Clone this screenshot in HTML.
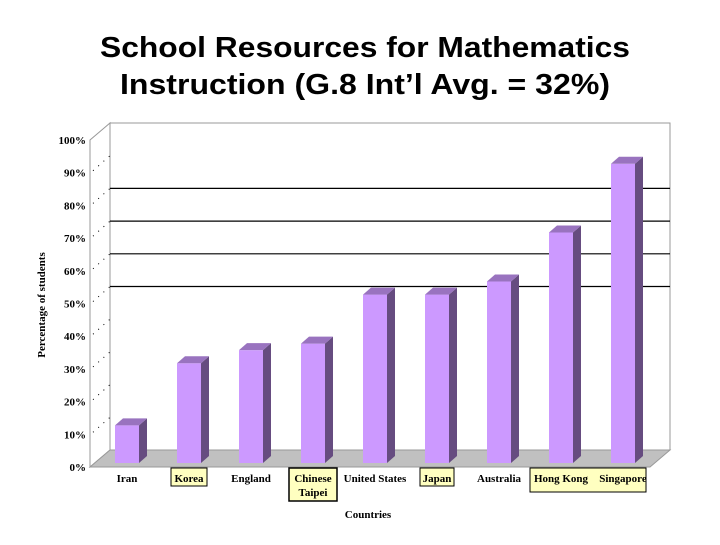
<!DOCTYPE html>
<html><head><meta charset="utf-8"><style>
body{margin:0;background:#fff;}
</style></head><body>
<svg width="720" height="540" viewBox="0 0 720 540" xmlns="http://www.w3.org/2000/svg">
<text x="365" y="57" text-anchor="middle" font-family="Liberation Sans, sans-serif" font-size="29" font-weight="bold" textLength="530" lengthAdjust="spacingAndGlyphs">School Resources for Mathematics</text>
<text x="365" y="94" text-anchor="middle" font-family="Liberation Sans, sans-serif" font-size="29" font-weight="bold" textLength="490" lengthAdjust="spacingAndGlyphs">Instruction (G.8 Int’l Avg. = 32%)</text>
<g id="plot"></g>
</svg>
<script>
const categories=["Iran","Korea","England","Chinese|Taipei","United States","Japan","Australia","Hong Kong","Singapore"];
const values=[11.5,30.5,34.5,36.5,51.5,51.5,55.5,70.5,91.5];
const highlighted=[false,true,false,true,false,true,false,true,true];
const ticks=[0,10,20,30,40,50,60,70,80,90,100];
const gridVals=[50,60,70,80];
const NS="http://www.w3.org/2000/svg";
const g=document.getElementById('plot');
const y0=467,ppu=3.27,dx=20,dy=-17,xf=90,xEnd=650;
const yScale=v=>y0-v*ppu;
function mk(t,a,txt){const e=document.createElementNS(NS,t);for(const k in a)e.setAttribute(k,a[k]);if(txt!==undefined)e.textContent=txt;g.appendChild(e);return e;}
let e=mk('rect',{x:xf+dx,y:yScale(100)+dy,width:xEnd-xf,height:100*ppu,fill:'#fff',stroke:'#999','stroke-width':1});

e=mk('polygon',{points:`${xf},${y0} ${xf+dx},${y0+dy} ${xf+dx},${yScale(100)+dy} ${xf},${yScale(100)}`,fill:'#fff',stroke:'#999'});

e=mk('polygon',{points:`${xf},${y0} ${xf+dx},${y0+dy} ${xEnd+dx},${y0+dy} ${xEnd},${y0}`,fill:'#c0c0c0',stroke:'#999'});

gridVals.forEach(v=>{const l=mk('line',{x1:xf+dx,x2:xEnd+dx,y1:yScale(v)+dy,y2:yScale(v)+dy,stroke:'#000','stroke-width':1.2});
});
ticks.forEach(v=>{const t=mk('text',{x:xf-4,y:yScale(v)+4,'text-anchor':'end','font-family':'Liberation Serif, serif','font-size':11,'font-weight':'bold'},v+'%');

if(v>0&&v<100){const d=mk('line',{x1:xf+3,y1:yScale(v)-2,x2:xf+dx,y2:yScale(v)+dy,stroke:'#000','stroke-dasharray':'1 6'});
}});
const step=62,x1=127,bw=24,bdx=8,bdy=-7,by=463;
categories.forEach((c,i)=>{const cx=x1+i*step,xl=cx-bw/2,top=by-values[i]*ppu;
const f=mk('rect',{x:xl,y:top,width:bw,height:by-top,fill:'#cc99ff'});

const s=mk('polygon',{points:`${xl+bw},${by} ${xl+bw+bdx},${by+bdy} ${xl+bw+bdx},${top+bdy} ${xl+bw},${top}`,fill:'#664c80'});

const tp=mk('polygon',{points:`${xl},${top} ${xl+bdx},${top+bdy} ${xl+bw+bdx},${top+bdy} ${xl+bw},${top}`,fill:'#9973bf'});

const parts=c.split('|');
if(highlighted[i]&&i!==8){const w=parts.length>1?48:i===1?36:34;
if(i===7){const b=mk('rect',{x:cx-31,y:468,width:116,height:24,fill:'#ffffc0',stroke:'#000'});}
else{const b=mk('rect',{x:cx-w/2,y:468,width:w,height:parts.length>1?33:18,fill:'#ffffc0',stroke:'#000','stroke-width':parts.length>1?1.5:1});}}
parts.forEach((p,j)=>{const t=mk('text',{x:cx,y:482+j*14,'text-anchor':'middle','font-family':'Liberation Serif, serif','font-size':11,'font-weight':'bold'},p);
});});
e=mk('text',{x:368,y:518,'text-anchor':'middle','font-family':'Liberation Serif, serif','font-size':11,'font-weight':'bold'},'Countries');

e=mk('text',{x:0,y:0,'text-anchor':'middle','font-family':'Liberation Serif, serif','font-size':11,'font-weight':'bold',transform:'translate(45,305) rotate(-90)'},'Percentage of students');

</script>
</body></html>
